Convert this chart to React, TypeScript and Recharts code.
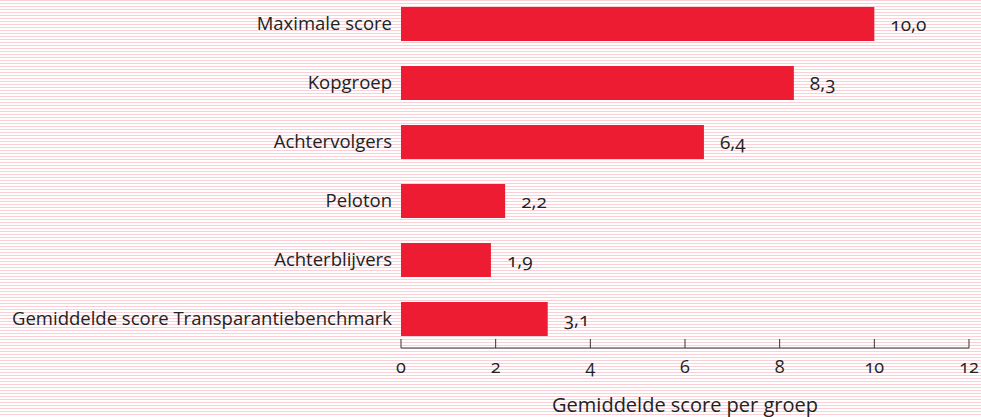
import React from 'react';
import { BarChart, Bar, XAxis, YAxis, LabelList } from 'recharts';

const categories = [
  'Maximale score',
  'Kopgroep',
  'Achtervolgers',
  'Peloton',
  'Achterblijvers',
  'Gemiddelde score Transparantiebenchmark',
];
const scores = [10.0, 8.3, 6.4, 2.2, 1.9, 3.1];
const xTicks = [0, 2, 4, 6, 8, 10, 12];

const data = categories.map((name, i) => ({ name, score: scores[i] }));

const FONT = '"Open Sans", sans-serif';
const BAR_RED = '#ED1C33';

const fmt = (v: number) => v.toFixed(1).replace('.', ',');

// tick line drawn upward from the axis, label below
const XTick = ({ x, y, payload }: any) => (
  <g>
    <line x1={x} y1={y - 9} x2={x} y2={y} stroke="#333" strokeWidth={1} />
    <text
      x={x}
      y={y + 25}
      textAnchor="middle"
      fill="#222"
      fontSize={18}
      fontFamily={FONT}
      style={{ fontVariantNumeric: 'oldstyle-nums' }}
    >
      {payload.value}
    </text>
  </g>
);

const App: React.FC = () => {
  return (
    <div
      style={{
        position: 'absolute',
        left: 0,
        top: 0,
        width: 981,
        height: 417,
        background:
          'repeating-linear-gradient(to bottom, #fad0d6 0px, #fad0d6 1.5px, #ffffff 1.5px, #ffffff 3px)',
      }}
    >
      <BarChart
        width={981}
        height={417}
        data={data}
        layout="vertical"
        margin={{ top: -6, right: 12, bottom: 0, left: 0 }}
        barSize={34}
      >
        <XAxis
          type="number"
          domain={[0, 12]}
          ticks={xTicks}
          height={69}
          tickLine={false}
          tickSize={0}
          tickMargin={0}
          axisLine={{ stroke: '#333', strokeWidth: 1 }}
          tick={<XTick />}
          label={{
            value: 'Gemiddelde score per groep',
            position: 'insideBottom',
            offset: 5,
            fill: '#222',
            fontSize: 20,
            fontFamily: FONT,
          }}
        />
        <YAxis
          type="category"
          dataKey="name"
          width={401}
          axisLine={false}
          tickLine={false}
          tickSize={0}
          tickMargin={9}
          tick={{ fill: '#222', fontSize: 18.5, fontFamily: FONT }}
        />
        <Bar dataKey="score" fill={BAR_RED} isAnimationActive={false}>
          <LabelList
            dataKey="score"
            position="right"
            offset={16}
            formatter={(v: any) => fmt(Number(v))}
            style={{ fill: '#222', fontSize: 19, fontFamily: FONT, fontVariantNumeric: 'oldstyle-nums' }}
          />
        </Bar>
      </BarChart>
    </div>
  );
};

export default App;
